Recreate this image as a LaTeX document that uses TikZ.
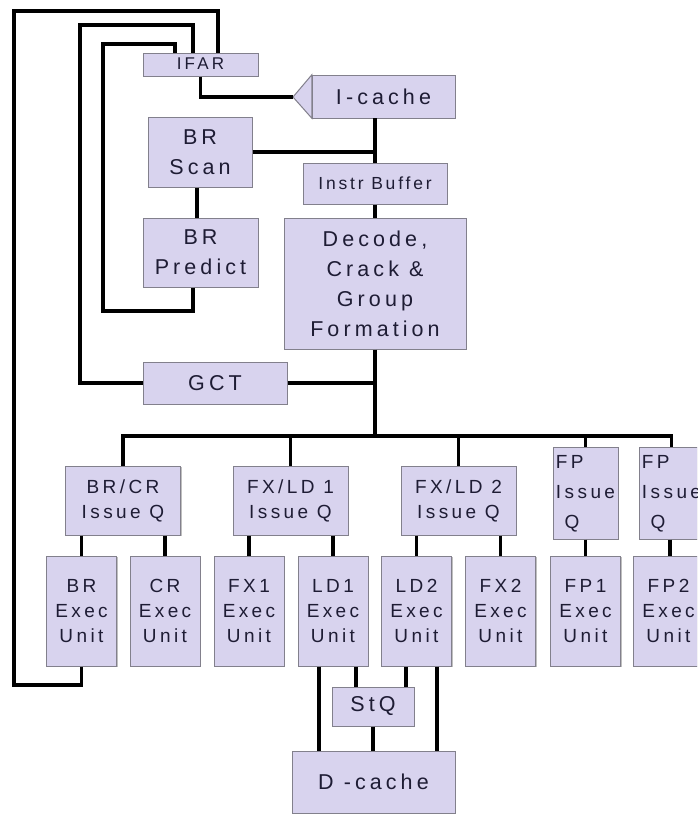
\documentclass[tikz,border=0pt]{standalone}
\usepackage{fontspec}
\newfontfamily\boxfont[LetterSpace=19]{Liberation Sans}
\newfontfamily\midfont[LetterSpace=18]{Liberation Sans}
\newfontfamily\smfont[LetterSpace=16]{Liberation Sans}
\usetikzlibrary{shadows}
\definecolor{boxfill}{RGB}{216,211,238}
\definecolor{boxline}{RGB}{130,128,140}
\definecolor{txt}{RGB}{30,28,52}
\newcommand{\fbig}{\boxfont\fontsize{21.5}{30}\selectfont}
\newcommand{\fmid}{\midfont\fontsize{19}{25}\selectfont}
\newcommand{\fsmall}{\smfont\fontsize{17.5}{20}\selectfont}
\newcommand{\ftiny}{\boxfont\fontsize{17}{18}\selectfont}
\tikzset{
  blk/.style={draw=boxline, fill=boxfill, line width=1pt, inner sep=0pt,
    text=txt, align=center, font=\fbig,
    drop shadow={shadow xshift=1.2pt, shadow yshift=-1.2pt, fill=black, opacity=0.25}},
  qbox/.style={blk, font=\fmid, minimum width=115, minimum height=69},
  xbox/.style={blk, font=\fmid, minimum width=70, minimum height=110},
  fpq/.style={blk, font=\fmid, minimum width=65, minimum height=92},
  wire/.style={draw=black, line width=3.2pt, line join=miter}
}
\begin{document}
\begin{tikzpicture}[x=1pt,y=-1pt]
\clip (0,0) rectangle (697,814);
\fill[white] (0,0) rectangle (697,814);
% top section
\node[blk, font=\ftiny, minimum width=115, minimum height=23] (ifar) at (200.5,64.5) {\raisebox{2pt}{IFAR}};
\coordinate (itip) at (293,97);
\node[minimum width=143, minimum height=43, inner sep=0pt] (icache) at (383.5,96.5) {};
\fill[black, opacity=0.25] ([xshift=1.2pt,yshift=-1.2pt]itip) -- ([xshift=1.2pt,yshift=-1.2pt]icache.north west) -- ([xshift=1.2pt,yshift=-1.2pt]icache.south west) -- cycle;
\filldraw[fill=boxfill, draw=boxline, line width=1pt] (itip) -- (icache.north west) -- (icache.south west) -- cycle;
\node[blk, minimum width=143, minimum height=43] at (icache.center) {I-cache};
\node[blk, minimum width=104, minimum height=70] (brs) at (200,152) {BR\\Scan};
\node[blk, font=\fsmall, minimum width=144, minimum height=41] (ib) at (375,183.5) {Instr Buffer};
\node[blk, minimum width=115, minimum height=69] (brp) at (200.5,252.5) {BR\\Predict};
\node[blk, minimum width=182, minimum height=131] (dec) at (375,283.5) {Decode,\\Crack \&\\Group\\Formation};
\node[blk, minimum width=144, minimum height=42] (gct) at (215,383) {GCT};
% issue queues
\node[qbox] (brq) at (123,500.5) {BR/CR\\Issue Q};
\node[qbox] (fx1q) at (290.5,500.5) {FX/LD 1\\Issue Q};
\node[qbox] (fx2q) at (458.5,500.5) {FX/LD 2\\Issue Q};
\node[fpq] (fpq1) at (585.5,493) {\begin{tabular}{@{}l@{}}FP\\[5pt]Issue\\[5pt]\ Q\end{tabular}};
\node[fpq] (fpq2) at (671.5,493) {\begin{tabular}{@{}l@{}}FP\\[5pt]Issue\\[5pt]\ Q\end{tabular}};
% exec units
\node[xbox] (brx) at (81.5,611) {BR\\Exec\\Unit};
\node[xbox] (crx) at (165,611) {CR\\Exec\\Unit};
\node[xbox] (fx1x) at (249,611) {FX1\\Exec\\Unit};
\node[xbox] (ld1x) at (333,611) {LD1\\Exec\\Unit};
\node[xbox] (ld2x) at (416.5,611) {LD2\\Exec\\Unit};
\node[xbox] (fx2x) at (500.5,611) {FX2\\Exec\\Unit};
\node[xbox] (fp1x) at (585.5,611) {FP1\\Exec\\Unit};
\node[xbox] (fp2x) at (668.5,611) {FP2\\Exec\\Unit};
% memory
\node[blk, minimum width=82, minimum height=39] (stq) at (373,706.5) {StQ};
\node[blk, minimum width=163, minimum height=62] (dc) at (373.5,782) {D -cache};
\coordinate (bus) at (375,436);
% loops
\draw[wire] (brx.south) |- (14,685) |- (218,11) -- (ifar.north -| 218,0);
\draw[wire] (gct.west) -| (80,25) -| (ifar.north -| 193,0);
\draw[wire] (brp.south -| 193,0) |- (103,311) |- (175,44) -- (ifar.north -| 175,0);
% fetch path
\draw[wire] (ifar.south) |- (itip);
\draw[wire] (icache.south -| ib.north) -- (ib.north);
\draw[wire] (brs.east) -- (brs.east -| ib.north);
\draw[wire] (brs.south -| 197,0) -- (brp.north -| 197,0);
\draw[wire] (ib.south) -- (dec.north);
\draw[wire] (gct.east) -- (gct.east -| dec.south);
\draw[wire] (dec.south) -- (bus);
% dispatch bus
\draw[wire] (brq.north) |- (bus) -| (fpq2.north);
\draw[wire] (bus -| fx1q.north) -- (fx1q.north);
\draw[wire] (bus -| fx2q.north) -- (fx2q.north);
\draw[wire] (bus -| fpq1.north) -- (fpq1.north);
% issue to exec
\draw[wire] (brq.south -| brx.north) -- (brx.north);
\draw[wire] (brq.south -| crx.north) -- (crx.north);
\draw[wire] (fx1q.south -| fx1x.north) -- (fx1x.north);
\draw[wire] (fx1q.south -| ld1x.north) -- (ld1x.north);
\draw[wire] (fx2q.south -| ld2x.north) -- (ld2x.north);
\draw[wire] (fx2q.south -| fx2x.north) -- (fx2x.north);
\draw[wire] (fpq1.south) -- (fp1x.north);
\draw[wire] (fpq2.south -| 670,0) -- (fp2x.north -| 670,0);
% load/store
\draw[wire] (ld1x.south -| 319,0) -- (dc.north -| 319,0);
\draw[wire] (ld1x.south -| 356,0) -- (stq.north -| 356,0);
\draw[wire] (ld2x.south -| 406,0) -- (stq.north -| 406,0);
\draw[wire] (ld2x.south -| 437,0) -- (dc.north -| 437,0);
\draw[wire] (stq.south) -- (dc.north -| stq.south);
\end{tikzpicture}
\end{document}
